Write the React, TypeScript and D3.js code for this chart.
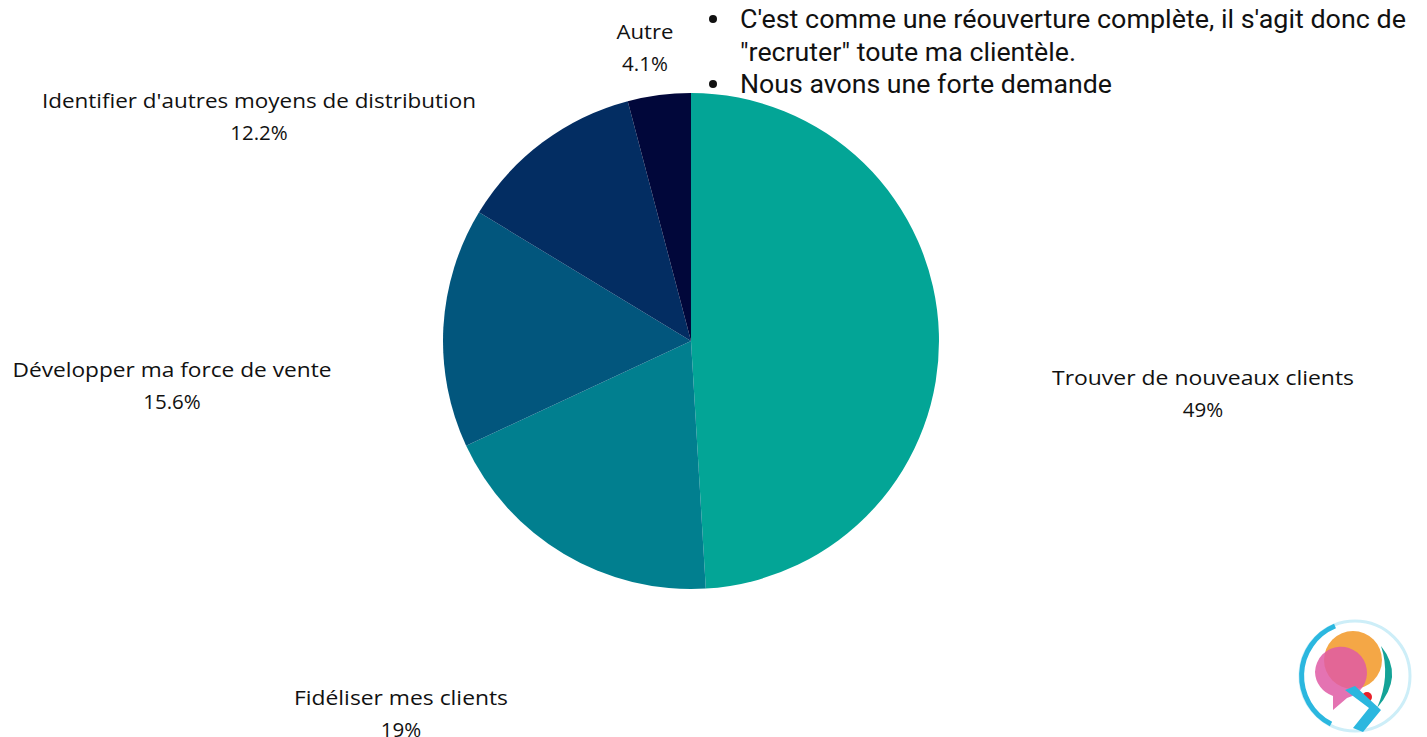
import React from "react";
import * as d3 from "d3";

const categories = [
  "Trouver de nouveaux clients",
  "Fidéliser mes clients",
  "Développer ma force de vente",
  "Identifier d'autres moyens de distribution",
  "Autre",
];
const values = [49, 19, 15.6, 12.2, 4.1];
const valueLabels = ["49%", "19%", "15.6%", "12.2%", "4.1%"];
const colors = ["#03a596", "#017f8f", "#02567d", "#032d62", "#01073a"];
const notes = [
  "C'est comme une réouverture complète, il s'agit donc de",
  "\"recruter\" toute ma clientèle.",
  "Nous avons une forte demande",
];

// layout (label anchors relative to pie centre, and label widths)
const labelOffsets: Record<string, [number, number, number]> = {
  "Trouver de nouveaux clients": [512, 44, 302],
  "Fidéliser mes clients": [-290, 364, 214],
  "Développer ma force de vente": [-519, 36, 319],
  "Identifier d'autres moyens de distribution": [-432, -233, 434],
  Autre: [-46, -302, 57],
};

export default function App() {
  const W = 1427;
  const H = 737;
  const cx = 691;
  const cy = 341;
  const r = 248;
  const pie = d3.pie<number>().sort(null).value((d) => d);
  const arcs = pie(values);
  const arc = d3.arc<d3.PieArcDatum<number>>().innerRadius(0).outerRadius(r);
  const font = "'Open Sans', sans-serif";

  return (
    <svg
      width={W}
      height={H}
      style={{ position: "fixed", left: 0, top: 0, background: "#fff" }}
    >
      <rect width={W} height={H} fill="#fff" />
      <g transform={`translate(${cx},${cy})`}>
        {arcs.map((a, i) => (
          <path key={i} d={arc(a) || ""} fill={colors[i]} />
        ))}
        {categories.map((c, i) => {
          const [dx, dy, w] = labelOffsets[c];
          return (
            <g key={c} transform={`translate(${dx},${dy})`} fontFamily={font} fontSize={20.5} fill="#111" textAnchor="middle">
              <text x={0} y={0} textLength={w} lengthAdjust="spacingAndGlyphs">{c}</text>
              <text x={0} y={32}>{valueLabels[i]}</text>
            </g>
          );
        })}
      </g>
      <g fontFamily="Roboto, sans-serif" fontSize={25} fill="#111">
        <circle cx={713} cy={19} r={4} fill="#111" />
        <text x={740} y={28} textLength={666} lengthAdjust="spacingAndGlyphs">{notes[0]}</text>
        <text x={740} y={61} textLength={336} lengthAdjust="spacingAndGlyphs">{notes[1]}</text>
        <circle cx={713} cy={84} r={4} fill="#111" />
        <text x={740} y={93} textLength={372} lengthAdjust="spacingAndGlyphs">{notes[2]}</text>
      </g>
      <g transform="translate(1355,676)">
        <circle r={55} fill="none" stroke="#cdeef8" strokeWidth={3} />
        <path d="M -24 48 A 54 54 0 0 1 -20 -50" fill="none" stroke="#2bb7df" strokeWidth={5} />
        <circle cx={-2} cy={-16} r={29} fill="#f3a23c" opacity={0.95} />
        <path d="M -40 -4 A 26 26 0 1 1 -8 22 L -22 34 L -22 20 A 26 26 0 0 1 -40 -4 Z" fill="#df5aa4" opacity={0.85} />
        <path d="M 26 -30 Q 50 0 22 32 Q 36 0 26 -30 Z" fill="#14a397" />
        <circle cx={12} cy={21} r={5} fill="#e8202a" />
        <path d="M -10 14 L 14 32 L -2 52 L 8 56 L 26 34 L 0 10 Z" fill="#2bb7df" />
      </g>
    </svg>
  );
}
